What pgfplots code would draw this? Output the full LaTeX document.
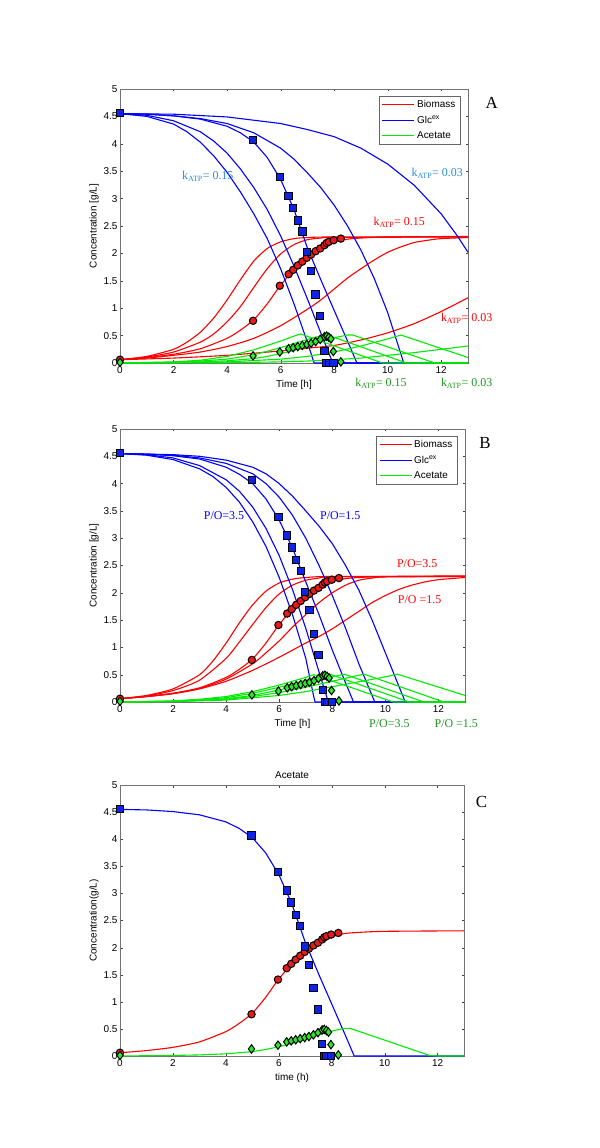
\documentclass[border=0pt]{standalone}
\usepackage{fontspec}
\setmainfont{Liberation Serif}
\setsansfont{Liberation Sans}
\usepackage{pgfplots}
\pgfplotsset{compat=1.18}
\usepackage{pgfplotstable}

\definecolor{mred}{RGB}{255,0,0}
\definecolor{mblue}{RGB}{0,0,255}
\definecolor{mgreen}{RGB}{0,235,0}
\definecolor{lblue}{RGB}{40,140,215}
\definecolor{lgreen}{RGB}{30,150,30}
\definecolor{mkred}{RGB}{235,25,25}
\definecolor{mkblue}{RGB}{15,35,230}
\definecolor{mkgreen}{RGB}{40,235,40}

\pgfplotstableread{
x y
0 4.56
4.97 4.07
5.97 3.39
6.30 3.05
6.47 2.83
6.64 2.60
6.81 2.40
6.98 2.02
7.14 1.68
7.31 1.25
7.48 0.86
7.64 0.22
7.72 0.00
7.80 0.00
7.98 0.00
}\glcdata

\pgfplotstableread{
x y
0 0.06
4.97 0.77
5.97 1.41
6.30 1.62
6.47 1.70
6.64 1.78
6.81 1.85
6.98 1.92
7.14 1.98
7.31 2.04
7.48 2.09
7.64 2.15
7.72 2.19
7.80 2.21
7.98 2.24
8.25 2.27
}\biodata

\pgfplotstableread{
x y
0 0.01
4.97 0.13
5.97 0.20
6.30 0.26
6.47 0.28
6.64 0.30
6.81 0.32
6.98 0.34
7.14 0.36
7.31 0.39
7.48 0.43
7.64 0.48
7.72 0.49
7.80 0.47
7.88 0.44
7.97 0.21
8.25 0.02
}\acedata

\newcommand{\lfont}{\sffamily\fontsize{10}{12}\selectfont}
\newcommand{\sfont}{\fontsize{12}{14}\selectfont}

\pgfplotsset{legend image code/.code={\draw[#1] (0bp,0bp) -- (32bp,0bp);}}

\pgfplotsset{
  panel/.style={
    scale only axis, anchor=south west,
    xmin=0, xmax=13, ymin=0, ymax=5,
    xtick={0,2,4,6,8,10,12},
    ytick={0,0.5,1,1.5,2,2.5,3,3.5,4,4.5,5},
    tick label style={font=\lfont},
    label style={font=\lfont},
    /pgf/number format/assume math mode=true,
    axis line style={black!55},
    tick style={black!75},
    major tick length=2.5bp,
    clip=false,
    xticklabel style={yshift=-0.5bp},
    yticklabel style={xshift=1bp},
    xlabel style={yshift=1bp},
    ylabel style={yshift=-2bp},
    legend style={at={(0.977,0.976)}, anchor=north east, draw=black!60,
      font=\lfont, inner xsep=2.5bp, inner ysep=2.5bp, row sep=2.8bp, cells={anchor=west}},
  },
  model/.style={line width=1.1bp, no marks},
  sm/.style={smooth, tension=0.4},
  glcmk/.style={only marks, mark=square*, mark size=3.7bp,
    mark options={fill=mkblue, draw=black, line width=1bp}},
  biomk/.style={only marks, mark=*, mark size=3.7bp,
    mark options={fill=mkred, draw=black, line width=1bp}},
  acemk/.style={only marks, mark=diamond*, mark size=4.2bp,
    mark options={fill=mkgreen, draw=black, line width=1bp}},
}

\begin{document}
\begin{tikzpicture}
\path[use as bounding box] (0,0) rectangle (600bp,1148bp);

% ---------------- Panel A ----------------
\begin{axis}[panel, at={(120bp,785bp)}, width=348bp, height=274bp,
  xlabel={Time [h]}, ylabel={Concentration [g/L]},
  legend entries={Biomass,Glc\textsuperscript{ex},Acetate}]
\addlegendimage{color=mred, line width=1.3bp}
\addlegendimage{color=mblue, line width=1.3bp}
\addlegendimage{color=mgreen, line width=1.3bp}
% biomass
\addplot[model, sm, mred, forget plot] coordinates {(0,0.06)(1,0.12)(2,0.25)(2.5,0.38)(3,0.56)(3.5,0.82)(4,1.15)(4.5,1.52)(5,1.86)(5.5,2.09)(6,2.21)(6.5,2.27)(7,2.29)(8,2.3)(13,2.3)};
\addplot[model, sm, mred, forget plot] coordinates {(0,0.06)(1,0.11)(2,0.2)(3,0.38)(3.5,0.53)(4,0.75)(4.5,1.03)(5,1.38)(5.5,1.72)(6,1.99)(6.5,2.16)(7,2.25)(7.5,2.28)(8,2.29)(13,2.3)};
\addplot[model, sm, mred, forget plot] coordinates {(0,0.06)(1,0.1)(2,0.16)(3,0.26)(4,0.45)(4.5,0.6)(5,0.79)(5.5,1.08)(6,1.42)(6.5,1.7)(7,1.92)(7.5,2.09)(8,2.2)(8.5,2.26)(9,2.28)(10,2.3)(13,2.31)};
\addplot[model, sm, mred, forget plot] coordinates {(0,0.06)(1,0.09)(2,0.14)(3,0.2)(4,0.3)(5,0.45)(6,0.68)(7,0.98)(7.5,1.15)(8,1.35)(8.5,1.55)(9,1.72)(9.5,1.88)(10,2.02)(10.5,2.12)(11,2.2)(11.5,2.24)(12,2.27)(13,2.29)};
\addplot[model, sm, mred, forget plot] coordinates {(0,0.06)(2,0.09)(4,0.14)(6,0.22)(7,0.27)(8,0.32)(9,0.42)(10,0.55)(11,0.72)(12,0.94)(13,1.19)};
% glucose
\addplot[model, mblue, forget plot] coordinates {(0,4.55)(1,4.5)(2,4.36)(2.5,4.22)(3,4.03)(3.5,3.78)(4,3.48)(4.5,3.12)(5,2.72)(5.5,2.27)(6,1.72)(6.5,1.08)(7,0.38)(7.25,0)(13,0)};
\addplot[model, mblue, forget plot] coordinates {(0,4.55)(1,4.52)(2,4.42)(3,4.22)(3.5,4.05)(4,3.83)(4.5,3.54)(5,3.2)(5.5,2.8)(6,2.32)(6.5,1.77)(7,1.17)(7.5,0.55)(7.95,0)(13,0)};
\addplot[model, mblue, forget plot] coordinates {(0,4.55)(1,4.54)(2,4.51)(3,4.45)(4,4.32)(4.5,4.2)(5,4.03)(5.5,3.75)(6,3.35)(6.5,2.8)(7,2.1)(7.5,1.52)(8,0.96)(8.5,0.4)(8.85,0)(13,0)};
\addplot[model, mblue, forget plot] coordinates {(0,4.55)(1,4.54)(2,4.51)(3,4.46)(4,4.37)(5,4.2)(6,3.92)(6.5,3.72)(7,3.47)(7.5,3.2)(8,2.88)(8.5,2.5)(9,2.06)(9.5,1.54)(10,0.92)(10.6,0)(13,0)};
\addplot[model, mblue, forget plot] coordinates {(0,4.55)(2,4.54)(4,4.49)(6,4.37)(7,4.26)(8,4.13)(9,3.92)(10,3.63)(11,3.24)(12,2.72)(12.6,2.32)(13,2.02)};
% acetate
\addplot[model, mgreen, forget plot] coordinates {(0,0)(2,0.02)(3,0.05)(4,0.12)(5,0.24)(6,0.4)(6.5,0.49)(6.75,0.53)(9.8,0)(13,0)};
\addplot[model, mgreen, forget plot] coordinates {(0,0)(2,0.015)(3,0.035)(4,0.07)(5,0.15)(6,0.28)(7,0.43)(7.7,0.52)(10.7,0)(13,0)};
\addplot[model, mgreen, forget plot] coordinates {(0,0)(1,0.005)(2,0.01)(3,0.02)(4,0.04)(5,0.08)(5.5,0.12)(6,0.17)(6.5,0.23)(7,0.3)(7.5,0.39)(8,0.46)(8.5,0.51)(8.7,0.51)(11.7,0.01)(12,0)(13,0)};
\addplot[model, mgreen, forget plot] coordinates {(0,0)(2,0.005)(4,0.02)(6,0.07)(7,0.12)(8,0.2)(9,0.31)(10,0.44)(10.5,0.51)(13,0.1)};
\addplot[model, mgreen, forget plot] coordinates {(0,0)(4,0.005)(6,0.02)(7,0.035)(8,0.06)(9,0.09)(10,0.14)(11,0.19)(12,0.25)(13,0.31)};
% experimental
\addplot[biomk, forget plot] table {\biodata};
\addplot[glcmk, forget plot] table {\glcdata};
\addplot[acemk, forget plot] table {\acedata};
% annotations
\node[font=\sfont, text=lblue] at (axis cs:3.28,3.41) {k\textsubscript{ATP}= 0.15};
\node[font=\sfont, text=lblue] at (axis cs:11.85,3.46) {k\textsubscript{ATP}= 0.03};
\node[font=\sfont, text=mred] at (axis cs:10.43,2.56) {k\textsubscript{ATP}= 0.15};
\node[font=\sfont, text=mred] at (axis cs:12.95,0.82) {k\textsubscript{ATP}= 0.03};
\node[font=\sfont, text=lgreen] at (axis cs:9.75,-0.37) {k\textsubscript{ATP}= 0.15};
\node[font=\sfont, text=lgreen] at (axis cs:12.95,-0.37) {k\textsubscript{ATP}= 0.03};
\node[font=\fontsize{17}{19}\selectfont] at (rel axis cs:1.068,0.948) {A};
\end{axis}

% ---------------- Panel B ----------------
\begin{axis}[panel, at={(120bp,446bp)}, width=345bp, height=273bp,
  xlabel={Time [h]}, ylabel={Concentration [g/L]},
  legend entries={Biomass,Glc\textsuperscript{ex},Acetate}]
\addlegendimage{color=mred, line width=1.3bp}
\addlegendimage{color=mblue, line width=1.3bp}
\addlegendimage{color=mgreen, line width=1.3bp}
% biomass
\addplot[model, sm, mred, forget plot] coordinates {(0,0.06)(1,0.12)(2,0.24)(3,0.5)(3.5,0.75)(4,1.08)(4.5,1.45)(5,1.78)(5.5,2.03)(6,2.18)(6.5,2.25)(7,2.28)(8,2.3)(13,2.3)};
\addplot[model, sm, mred, forget plot] coordinates {(0,0.06)(1,0.11)(2,0.21)(3,0.4)(4,0.8)(4.5,1.1)(5,1.42)(5.5,1.73)(6,1.98)(6.5,2.14)(7,2.23)(7.5,2.27)(8,2.29)(13,2.3)};
\addplot[model, sm, mred, forget plot] coordinates {(0,0.06)(1,0.1)(2,0.16)(3,0.26)(4,0.45)(4.5,0.6)(5,0.79)(5.5,1.08)(6,1.42)(6.5,1.7)(7,1.92)(7.5,2.09)(8,2.2)(8.5,2.26)(9,2.28)(10,2.3)(13,2.31)};
\addplot[model, sm, mred, forget plot] coordinates {(0,0.06)(1,0.1)(2,0.16)(3,0.25)(4,0.42)(5,0.7)(5.5,0.9)(6,1.12)(6.5,1.37)(7,1.6)(7.5,1.82)(8,2.0)(8.5,2.14)(9,2.23)(9.5,2.27)(10,2.29)(13,2.3)};
\addplot[model, sm, mred, forget plot] coordinates {(0,0.06)(1,0.1)(2,0.15)(3,0.24)(4,0.38)(5,0.58)(6,0.82)(7,1.08)(7.5,1.2)(8,1.34)(8.5,1.5)(9,1.66)(9.5,1.82)(10,1.95)(10.5,2.06)(11,2.14)(11.5,2.2)(12,2.24)(13,2.28)};
% glucose
\addplot[model, mblue, forget plot] coordinates {(0,4.55)(1,4.52)(2,4.44)(3,4.27)(3.5,4.13)(4,3.93)(4.5,3.66)(5,3.3)(5.5,2.85)(6,2.28)(6.5,1.6)(7,0.8)(7.3,0.1)(7.35,0)(13,0)};
\addplot[model, mblue, forget plot] coordinates {(0,4.55)(1,4.53)(2,4.47)(3,4.33)(4,4.07)(4.5,3.86)(5,3.57)(5.5,3.18)(6,2.68)(6.5,2.06)(7,1.35)(7.5,0.55)(7.85,0)(13,0)};
\addplot[model, mblue, forget plot] coordinates {(0,4.55)(1,4.54)(2,4.51)(3,4.45)(4,4.3)(4.5,4.17)(5,4.0)(5.5,3.72)(6,3.33)(6.5,2.82)(7,2.2)(7.5,1.6)(8,0.95)(8.5,0.35)(8.8,0)(13,0)};
\addplot[model, mblue, forget plot] coordinates {(0,4.55)(1,4.54)(2,4.52)(3,4.47)(4,4.37)(5,4.18)(5.5,4.0)(6,3.75)(6.5,3.42)(7,3.0)(7.5,2.5)(8,1.95)(8.5,1.35)(9,0.7)(9.6,0)(13,0)};
\addplot[model, mblue, forget plot] coordinates {(0,4.55)(1,4.54)(2,4.53)(3,4.5)(4,4.43)(5,4.3)(5.5,4.18)(6,4.0)(6.5,3.77)(7,3.5)(7.5,3.22)(8,2.9)(8.5,2.5)(9,2.05)(9.5,1.5)(10,0.9)(10.75,0)(13,0)};
% acetate
\addplot[model, mgreen, forget plot] coordinates {(0,0)(2,0.02)(3,0.05)(4,0.1)(5,0.19)(6,0.31)(7,0.45)(7.3,0.5)(10.3,0)(13,0)};
\addplot[model, mgreen, forget plot] coordinates {(0,0)(2,0.015)(3,0.04)(4,0.08)(5,0.16)(6,0.27)(7,0.4)(7.9,0.51)(10.9,0)(13,0)};
\addplot[model, mgreen, forget plot] coordinates {(0,0)(2,0.012)(3,0.03)(4,0.06)(5,0.12)(6,0.22)(7,0.34)(8,0.46)(8.45,0.51)(11.45,0)(13,0)};
\addplot[model, mgreen, forget plot] coordinates {(0,0)(2,0.01)(4,0.05)(5,0.1)(6,0.17)(7,0.27)(8,0.38)(9,0.49)(9.2,0.51)(12.2,0)(13,0)};
\addplot[model, mgreen, forget plot] coordinates {(0,0)(2,0.008)(4,0.035)(6,0.12)(7,0.19)(8,0.28)(9,0.37)(10,0.46)(10.45,0.51)(13,0.12)};
% experimental
\addplot[biomk, forget plot] table {\biodata};
\addplot[glcmk, forget plot] table {\glcdata};
\addplot[acemk, forget plot] table {\acedata};
% annotations
\node[font=\sfont, text=mblue] at (axis cs:3.92,3.41) {P/O=3.5};
\node[font=\sfont, text=mblue] at (axis cs:8.3,3.41) {P/O=1.5};
\node[font=\sfont, text=mred] at (axis cs:11.2,2.54) {P/O=3.5};
\node[font=\sfont, text=mred] at (axis cs:11.29,1.87) {P/O =1.5};
\node[font=\sfont, text=lgreen] at (axis cs:10.15,-0.39) {P/O=3.5};
\node[font=\sfont, text=lgreen] at (axis cs:12.67,-0.39) {P/O =1.5};
\node[font=\fontsize{17}{19}\selectfont] at (rel axis cs:1.058,0.948) {B};
\end{axis}

% ---------------- Panel C ----------------
\begin{axis}[panel, at={(120bp,92bp)}, width=344bp, height=271bp,
  xlabel={time (h)}, ylabel={Concentration(g/L)},
  title={Acetate}, title style={font=\lfont, yshift=-3bp}]
\addplot[model, sm, mred] coordinates {(0,0.06)(1,0.1)(2,0.16)(3,0.26)(4,0.45)(4.5,0.6)(5,0.79)(5.5,1.08)(6,1.42)(6.5,1.7)(7,1.92)(7.5,2.09)(8,2.2)(8.5,2.26)(9,2.28)(10,2.3)(13,2.31)};
\addplot[model, mblue] coordinates {(0,4.55)(1,4.54)(2,4.51)(3,4.45)(4,4.32)(4.5,4.2)(5,4.03)(5.5,3.75)(6,3.35)(6.5,2.8)(7,2.1)(7.5,1.52)(8,0.96)(8.5,0.4)(8.85,0)(13,0)};
\addplot[model, mgreen] coordinates {(0,0)(1,0.005)(2,0.01)(3,0.02)(4,0.04)(5,0.08)(5.5,0.12)(6,0.17)(6.5,0.23)(7,0.3)(7.5,0.39)(8,0.46)(8.5,0.51)(8.7,0.51)(11.7,0.01)(12,0)(13,0)};
\addplot[biomk] table {\biodata};
\addplot[glcmk] table {\glcdata};
\addplot[acemk] table {\acedata};
\node[font=\fontsize{17}{19}\selectfont] at (rel axis cs:1.051,0.938) {C};
\end{axis}
\end{tikzpicture}
\end{document}
